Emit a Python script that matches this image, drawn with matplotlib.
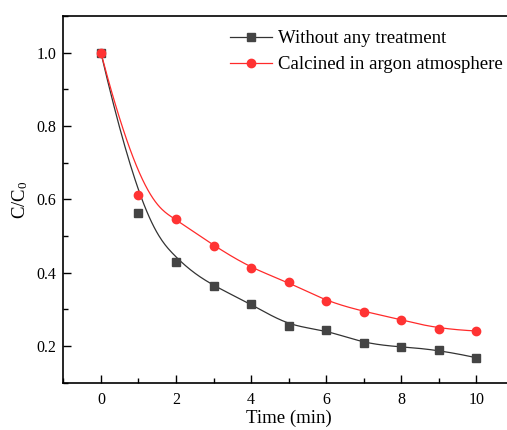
import numpy as np
import matplotlib
matplotlib.use("Agg")
import matplotlib.pyplot as plt
from matplotlib.lines import Line2D
from matplotlib.ticker import MultipleLocator

plt.rcParams['font.family'] = ['Liberation Serif', 'DejaVu Serif']
plt.rcParams['mathtext.fontset'] = 'custom'
plt.rcParams['mathtext.rm'] = 'Liberation Serif'
plt.rcParams['mathtext.it'] = 'Liberation Serif'

# data
time_min = [0, 1, 2, 3, 4, 5, 6, 7, 8, 9, 10]
untreated = [1.0, 0.562, 0.430, 0.363, 0.315, 0.254, 0.244, 0.207, 0.197, 0.190, 0.168]
calcined = [1.0, 0.611, 0.545, 0.474, 0.412, 0.374, 0.322, 0.294, 0.272, 0.246, 0.241]

labels = ['Without any treatment', 'Calcined in argon atmosphere']
colors = ['#444444', '#FF3333']
line_colors = ['#333333', '#FF2A2A']
markers = ['s', 'o']


def bspline(px, py, num=400, k=3):
    """Clamped cubic B-spline using the data points as control points."""
    px = np.asarray(px, float)
    py = np.asarray(py, float)
    n = len(px)
    knots = np.concatenate([np.zeros(k), np.arange(n - k + 1), np.full(k, n - k)]).astype(float)
    t = np.linspace(0, n - k, num)
    t[-1] -= 1e-9
    B = np.array([(knots[i] <= t) & (t < knots[i + 1]) for i in range(len(knots) - 1)], float)
    for d in range(1, k + 1):
        Bn = np.zeros((len(knots) - 1 - d, num))
        for i in range(len(knots) - 1 - d):
            den1 = knots[i + d] - knots[i]
            den2 = knots[i + d + 1] - knots[i + 1]
            left = (t - knots[i]) / den1 * B[i] if den1 > 0 else 0
            right = (knots[i + d + 1] - t) / den2 * B[i + 1] if den2 > 0 else 0
            Bn[i] = left + right
        B = Bn
    return B.T @ px, B.T @ py


fig = plt.figure(figsize=(5.07, 4.30), dpi=100)
ax = fig.add_axes([0.1249, 0.110, 0.889, 0.853])

handles = []
for ys, lab, c, lc, m in zip([untreated, calcined], labels, colors, line_colors, markers):
    sx, sy = bspline(time_min, ys)
    ax.plot(sx, sy, color=lc, lw=0.9, zorder=2)
    ms = 5.2 if m == 's' else 6.0
    ax.plot(time_min, ys, linestyle='none', marker=m, ms=ms, color=c, zorder=3)
    handles.append(Line2D([], [], color=lc, lw=0.9, marker=m, ms=ms, mfc=c, mec=c))

ax.set_xlim(-1, 11)
ax.set_ylim(0.1, 1.1)
ax.xaxis.set_major_locator(MultipleLocator(2))
ax.xaxis.set_minor_locator(MultipleLocator(1))
ax.yaxis.set_major_locator(MultipleLocator(0.2))
ax.yaxis.set_minor_locator(MultipleLocator(0.1))
ax.tick_params(which='both', direction='in', top=False, right=False, labelsize=11.5, width=1.0)
ax.tick_params(which='major', length=5.5)
ax.tick_params(which='minor', length=3.5)
ax.tick_params(axis='x', pad=7)
ax.tick_params(axis='y', pad=5)
for spine in ax.spines.values():
    spine.set_linewidth(1.2)

ax.set_xlabel('Time (min)', fontsize=13.5, labelpad=1)
ax.set_ylabel('C/C$_0$', fontsize=13.5, labelpad=5)

ax.legend(handles, labels, loc='upper left', bbox_to_anchor=(0.353, 0.982),
          frameon=False, fontsize=13.5, handlelength=2.27, handletextpad=0.28,
          labelspacing=0.47, borderaxespad=0)

fig.savefig('out.png', dpi=100)
